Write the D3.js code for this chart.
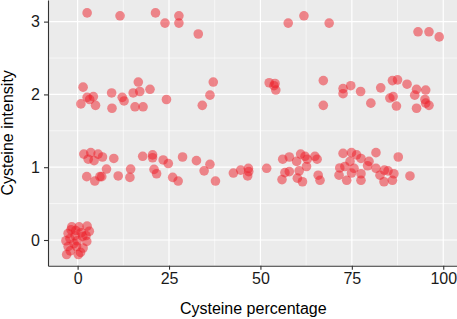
<!DOCTYPE html>
<html>
<head>
<meta charset="utf-8">
<script src="https://cdn.jsdelivr.net/npm/d3@7"></script>
<style>
  body { margin: 0; background: #fff; }
  svg { display: block; font-family: "Liberation Sans", Arial, sans-serif; }
</style>
</head>
<body>
<svg id="chart" width="457" height="319"></svg>
<script>
// =======================
//  Data
// =======================

// cysteine percentage (x) and cysteine intensity (y), one entry per point
var cysPct = [
    // intensity ~3
    2.6, 11.6, 21.3, 23.9, 27.7, 27.7, 33.0, 57.6, 61.9, 68.8, 93.1, 96.1, 98.9,
    // intensity ~2
    1.5, 0.9, 2.6, 4.3, 3.3, 4.9, 9.3, 9.4, 12.2, 12.7, 15.2, 16.6, 17.0, 19.8, 15.7, 17.9,
    24.3, 34.1, 36.2, 37.1, 52.4, 54.0, 53.7, 54.2, 67.2, 67.2, 72.6, 72.6, 74.7, 77.4,
    80.2, 82.9, 85.4, 86.3, 86.1, 87.5, 87.2, 90.1, 92.7, 92.2, 92.7, 95.2, 95.0, 95.2, 96.1,
    // intensity ~1
    1.7, 3.6, 5.6, 2.9, 4.5, 6.8, 9.9, 7.9, 2.5, 4.7, 6.1, 6.6, 11.1, 14.5, 14.3, 17.8,
    20.5, 20.5, 20.9, 21.6, 23.4, 24.8, 28.7, 32.5, 36.2, 26.0, 27.5, 34.6, 37.7, 42.6,
    44.6, 46.7, 46.8, 46.5, 51.7, 56.1, 57.9, 59.9, 61.0, 62.2, 56.7, 57.9, 60.6, 62.6,
    55.9, 60.1, 61.5, 62.8, 64.9, 65.5, 65.8, 66.3, 72.6, 74.9, 76.3, 77.5, 74.5, 73.1,
    71.7, 75.6, 71.5, 73.6, 74.9, 77.5, 77.5, 81.6, 79.7, 79.3, 81.6, 82.7, 83.9, 84.9,
    83.8, 86.5, 86.1, 87.7, 90.9,
    // intensity ~0
    -1.6, 0.4, 2.6, -0.5, 3.2, -2.6, -0.7, 2.3, -3.2, -0.1, 2.5, -2.6, -0.3, -3.0, 0.2,
    0.8, 1.5, -2.1, 1.4, -1.8, 1.0, -1.0, -2.0
];
var cysInt = [
    3.12, 3.08, 3.12, 2.98, 3.08, 2.98, 2.83, 2.98, 3.08, 2.98, 2.86, 2.86, 2.79,
    2.10, 1.87, 1.96, 1.97, 1.93, 1.85, 2.02, 1.81, 1.96, 1.91, 2.02, 2.17, 2.04, 2.07, 1.83, 1.83,
    1.93, 1.85, 1.99, 2.17, 2.16, 2.15, 2.12, 2.06, 2.19, 1.85, 2.08, 2.01, 2.12, 2.04,
    1.88, 2.09, 1.95, 1.97, 2.19, 2.20, 1.84, 2.14, 2.07, 1.99, 1.81, 2.06, 1.93, 1.88, 1.85,
    1.18, 1.20, 1.18, 1.11, 1.09, 1.14, 1.12, 0.975, 0.87, 0.81, 0.87, 0.87, 0.88, 0.975, 0.86, 1.15,
    1.17, 1.13, 0.97, 0.91, 1.10, 1.05, 1.14, 1.09, 1.04, 0.86, 0.81, 0.95, 0.81, 0.92,
    0.96, 0.985, 0.94, 0.88, 0.985, 1.11, 1.14, 1.08, 1.18, 1.15, 0.925, 0.94, 0.95, 1.01,
    0.83, 0.85, 0.80, 1.11, 1.15, 1.11, 0.89, 0.82, 1.19, 1.20, 1.17, 1.12, 1.08, 1.01,
    0.99, 0.985, 0.89, 0.82, 0.92, 0.91, 0.82, 1.20, 1.08, 1.02, 0.985, 0.89, 0.96, 0.95,
    0.80, 0.91, 0.82, 1.14, 0.88,
    0.18, 0.18, 0.19, 0.13, 0.12, 0.09, 0.06, 0.06, -0.01, -0.01, -0.02, -0.09, -0.09, -0.20, -0.20,
    -0.17, -0.11, 0.02, 0.05, 0.14, 0.10, -0.05, -0.15
];

var xTicks = [0, 25, 50, 75, 100];
var yTicks = [0, 1, 2, 3];

// =======================
//  Layout
// =======================

var svg = d3.select("#chart");
var panel = { left: 48, top: 0, right: 458.6, bottom: 265.7 };

var x = d3.scaleLinear().domain([-8.1, 104.2]).range([panel.left, panel.right]);
var y = d3.scaleLinear().domain([-0.353, 3.297]).range([panel.bottom, panel.top]);

// panel background
svg.append("rect")
    .attr("x", panel.left)
    .attr("y", panel.top)
    .attr("width", panel.right - panel.left)
    .attr("height", panel.bottom - panel.top)
    .attr("fill", "#EBEBEB");

// gridlines (minor then major)
var grid = svg.append("g");
var xMinor = xTicks.map(d => d - 12.5).concat([112.5]).filter(d => d > x.domain()[0] && d < x.domain()[1]);
var yMinor = yTicks.map(d => d - 0.5).concat([3.5]).filter(d => d > y.domain()[0] && d < y.domain()[1]);

grid.selectAll(".xminor").data(xMinor).join("line")
    .attr("x1", d => x(d)).attr("x2", d => x(d))
    .attr("y1", panel.top).attr("y2", panel.bottom)
    .attr("stroke", "#fff").attr("stroke-width", 0.6);
grid.selectAll(".yminor").data(yMinor).join("line")
    .attr("y1", d => y(d)).attr("y2", d => y(d))
    .attr("x1", panel.left).attr("x2", panel.right)
    .attr("stroke", "#fff").attr("stroke-width", 0.6);
grid.selectAll(".xmajor").data(xTicks).join("line")
    .attr("x1", d => x(d)).attr("x2", d => x(d))
    .attr("y1", panel.top).attr("y2", panel.bottom)
    .attr("stroke", "#fff").attr("stroke-width", 1.2);
grid.selectAll(".ymajor").data(yTicks).join("line")
    .attr("y1", d => y(d)).attr("y2", d => y(d))
    .attr("x1", panel.left).attr("x2", panel.right)
    .attr("stroke", "#fff").attr("stroke-width", 1.2);

// =======================
//  Points
// =======================

var points = cysPct.map((d, i) => ({ pct: d, val: cysInt[i] }));

svg.append("g").selectAll("circle")
    .data(points)
    .join("circle")
    .attr("cx", d => x(d.pct))
    .attr("cy", d => y(d.val))
    .attr("r", 4.8)
    .attr("fill", "#EE1C25")
    .attr("fill-opacity", 0.5);

// =======================
//  Axes
// =======================

var xAxis = svg.append("g")
    .attr("transform", `translate(0,${panel.bottom})`)
    .call(d3.axisBottom(x).tickValues(xTicks).tickFormat(d3.format("d"))
        .tickSizeInner(4).tickSizeOuter(0).tickPadding(3));
var yAxis = svg.append("g")
    .attr("transform", `translate(${panel.left},0)`)
    .call(d3.axisLeft(y).tickValues(yTicks).tickFormat(d3.format("d"))
        .tickSizeInner(4).tickSizeOuter(0).tickPadding(4));

[xAxis, yAxis].forEach(function(ax) {
    ax.select(".domain").attr("stroke", "#333").attr("stroke-width", 1.1);
    ax.selectAll(".tick line").attr("stroke", "#333").attr("stroke-width", 1.1);
    ax.selectAll(".tick text")
        .attr("fill", "#1a1a1a")
        .style("font-size", "16px")
        .style("font-family", "'Liberation Sans', Arial, sans-serif");
});

// axis titles
svg.append("text")
    .attr("x", (panel.left + panel.right) / 2)
    .attr("y", 313.5)
    .attr("text-anchor", "middle")
    .attr("fill", "#000")
    .style("font-size", "16px")
    .text("Cysteine percentage");

svg.append("text")
    .attr("transform", `translate(12.5,${(panel.top + panel.bottom) / 2}) rotate(-90)`)
    .attr("text-anchor", "middle")
    .attr("fill", "#000")
    .style("font-size", "16px")
    .text("Cysteine intensity");
</script>
</body>
</html>
